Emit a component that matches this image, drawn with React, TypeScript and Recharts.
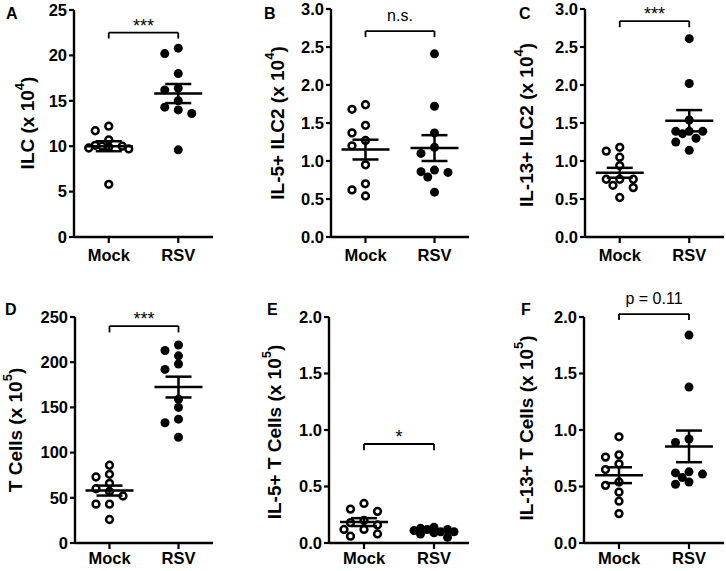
import { ScatterChart, Scatter, XAxis, YAxis, ErrorBar, ReferenceLine } from "recharts";

const FONT = '"Liberation Sans", Arial, sans-serif';

const groups = ["Mock", "RSV"];
const panelLetters = ["A", "B", "C", "D", "E", "F"];
const yTitles = ["ILC (x 10", "IL-5+ ILC2 (x 10", "IL-13+ ILC2 (x 10", "T Cells (x 10", "IL-5+ T Cells (x 10", "IL-13+ T Cells (x 10"];
const yExponents = ["4", "4", "4", "5", "5", "5"];
const sigLabels = ["***", "n.s.", "***", "***", "*", "p = 0.11"];

// A: ILC (x 10^4)
const ilcMock = [12.2, 11.7, 10.7, 10.1, 10.0, 10.0, 9.9, 9.8, 9.7, 5.8];
const ilcRsv = [20.8, 20.2, 18.0, 16.4, 16.2, 15.0, 14.3, 14.0, 13.6, 9.6];
const ilcMean = [10.0, 15.8];
const ilcSem = [0.55, 1.05];
const ilcTicks = [0, 5, 10, 15, 20, 25];

// B: IL-5+ ILC2 (x 10^4)
const il5Ilc2Mock = [1.74, 1.68, 1.47, 1.37, 1.27, 1.2, 0.95, 0.7, 0.62, 0.54];
const il5Ilc2Rsv = [2.41, 1.72, 1.37, 1.18, 1.1, 0.88, 0.86, 0.85, 0.79, 0.59];
const il5Ilc2Mean = [1.15, 1.17];
const il5Ilc2Sem = [0.13, 0.17];

// C: IL-13+ ILC2 (x 10^4)
const il13Ilc2Mock = [1.18, 1.13, 1.05, 0.94, 0.76, 0.76, 0.76, 0.68, 0.65, 0.52];
const il13Ilc2Rsv = [2.61, 2.02, 1.54, 1.39, 1.39, 1.39, 1.36, 1.3, 1.25, 1.14];
const il13Ilc2Mean = [0.845, 1.53];
const il13Ilc2Sem = [0.065, 0.14];
const ilc2Ticks = [0, 0.5, 1, 1.5, 2, 2.5, 3];

// D: T cells (x 10^5)
const tMock = [86, 76, 73, 66, 60, 57, 52, 43, 43, 26];
const tRsv = [219, 213, 207, 198, 192, 159, 150, 137, 133, 117];
const tMean = [58, 172.5];
const tSem = [5.5, 11.5];
const tTicks = [0, 50, 100, 150, 200, 250];

// E: IL-5+ T cells (x 10^5)
const il5TMock = [0.35, 0.3, 0.28, 0.2, 0.18, 0.16, 0.12, 0.12, 0.08, 0.06];
const il5TRsv = [0.14, 0.13, 0.12, 0.12, 0.11, 0.1, 0.1, 0.09, 0.08, 0.05];
const il5TMean = [0.185, 0.105];
const il5TSem = [0.035, 0.01];

// F: IL-13+ T cells (x 10^5)
const il13TMock = [0.94, 0.78, 0.76, 0.7, 0.65, 0.54, 0.51, 0.45, 0.37, 0.26];
const il13TRsv = [1.84, 1.38, 0.92, 0.89, 0.63, 0.62, 0.61, 0.58, 0.54, 0.52];
const il13TMean = [0.6, 0.855];
const il13TSem = [0.07, 0.14];
const tSubTicks = [0, 0.5, 1, 1.5, 2];

// [bracket level, bracket tick end] in data units
const brackets = [[22.5, 21.85], [2.71, 2.63], [2.84, 2.76], [240, 233], [0.876, 0.82], [2.026, 1.973]];

const panels = [
  { mock: ilcMock, rsv: ilcRsv, mean: ilcMean, sem: ilcSem, ticks: ilcTicks, dec: 0, box: [0, 0, 242, 285], plot: [74, 213, 10, 237], tickGap: 6, labelAt: [27, 123], letterAt: [6, 19], sigOffset: 1 },
  { mock: il5Ilc2Mock, rsv: il5Ilc2Rsv, mean: il5Ilc2Mean, sem: il5Ilc2Sem, ticks: ilc2Ticks, dec: 1, box: [242, 0, 242, 285], plot: [331, 469, 9, 237], tickGap: 6, labelAt: [277, 123], letterAt: [264, 19], sigOffset: 10 },
  { mock: il13Ilc2Mock, rsv: il13Ilc2Rsv, mean: il13Ilc2Mean, sem: il13Ilc2Sem, ticks: ilc2Ticks, dec: 1, box: [484, 0, 242, 285], plot: [585, 724, 9, 237], tickGap: 6, labelAt: [526, 125], letterAt: [519, 19], sigOffset: 1 },
  { mock: tMock, rsv: tRsv, mean: tMean, sem: tSem, ticks: tTicks, dec: 0, box: [0, 285, 242, 286], plot: [75, 213, 317, 543], tickGap: 3, labelAt: [15, 430], letterAt: [5, 315], sigOffset: 1 },
  { mock: il5TMock, rsv: il5TRsv, mean: il5TMean, sem: il5TSem, ticks: tSubTicks, dec: 1, box: [242, 285, 242, 286], plot: [329, 469, 317, 543], tickGap: 3, labelAt: [274, 432], letterAt: [267, 315], sigOffset: 1 },
  { mock: il13TMock, rsv: il13TRsv, mean: il13TMean, sem: il13TSem, ticks: tSubTicks, dec: 1, box: [484, 285, 242, 286], plot: [584, 724, 317, 543], tickGap: 3, labelAt: [526, 428], letterAt: [521, 315], sigOffset: 10 },
];

// simple column-style swarm so overlapping dots spread sideways
function swarm(values: number[], center: number, pxX: number, pxY: number) {
  const placed: { x: number; y: number }[] = [];
  const steps = [0, -13.5, 13.5, -6.75, 6.75, -20, 20];
  return values.map((v) => {
    const py = v * pxY;
    let best = 0;
    let bestD = -1;
    for (const s of steps) {
      let d = Infinity;
      for (const p of placed) d = Math.min(d, Math.hypot(p.x - s, p.y - py));
      if (d >= 8) { best = s; break; }
      if (d > bestD) { bestD = d; best = s; }
    }
    placed.push({ x: best, y: py });
    return { x: center + best / pxX, y: v };
  });
}

const openDot = (props: any) => (
  <circle cx={props.cx} cy={props.cy} r={3.4} fill="none" stroke="#000" strokeWidth={2.5} />
);
const filledDot = (props: any) => <circle cx={props.cx} cy={props.cy} r={4.5} fill="#000" />;
const meanLine = (props: any) => (
  <line x1={props.cx - 24} x2={props.cx + 24} y1={props.cy} y2={props.cy} stroke="#000" strokeWidth={2.5} />
);

function Panel({ p, i }: { p: any; i: number }) {
  const [bx, by, bw, bh] = p.box;
  const [pl, pr, pt, pb] = p.plot;
  const yMax = p.ticks[p.ticks.length - 1];
  const pxY = (pb - pt) / yMax;
  const pxX = (pr - pl) / 2;
  const mockPts = swarm(p.mock, 1, pxX, pxY);
  const rsvPts = swarm(p.rsv, 2, pxX, pxY);
  const stats = groups.map((_, k) => ({ x: k + 1, y: p.mean[k], err: p.sem[k] }));
  const xh = by + bh - pb >= 40 ? 40 : by + bh - pb;
  const [lvl, end] = brackets[i];
  const line = { stroke: "#000", strokeWidth: 1.8, ifOverflow: "visible" as const };

  return (
    <div style={{ position: "absolute", left: bx, top: by }}>
      <ScatterChart
        width={bw}
        height={bh}
        margin={{ top: pt - by, right: bx + bw - pr, bottom: by + bh - pb - xh, left: 0 }}
      >
        <XAxis
          type="number"
          dataKey="x"
          domain={[0.5, 2.5]}
          ticks={[1, 2]}
          interval={0}
          tickFormatter={(v) => groups[v - 1]}
          height={xh}
          tickSize={6}
          tickMargin={p.tickGap}
          axisLine={{ stroke: "#000", strokeWidth: 2.4 }}
          tickLine={{ stroke: "#000", strokeWidth: 2.2 }}
          tick={{ fill: "#000", fontSize: 16.5, fontWeight: "bold", fontFamily: FONT }}
        />
        <YAxis
          type="number"
          dataKey="y"
          domain={[0, yMax]}
          ticks={p.ticks}
          interval={0}
          width={pl - bx}
          tickFormatter={(v) => v.toFixed(p.dec)}
          tickSize={5}
          axisLine={{ stroke: "#000", strokeWidth: 2.4 }}
          tickLine={{ stroke: "#000", strokeWidth: 2.2 }}
          tick={{ fill: "#000", fontSize: 16.5, fontWeight: "bold", fontFamily: FONT }}
        />
        <ReferenceLine
          segment={[{ x: 1, y: lvl }, { x: 2, y: lvl }]}
          {...line}
          label={{ value: sigLabels[i], position: "top", offset: p.sigOffset, fill: "#000", fontSize: sigLabels[i].startsWith("*") ? 18 : 16, fontFamily: FONT }}
        />
        <ReferenceLine segment={[{ x: 1, y: lvl }, { x: 1, y: end }]} {...line} />
        <ReferenceLine segment={[{ x: 2, y: lvl }, { x: 2, y: end }]} {...line} />
        <Scatter data={mockPts} shape={openDot} isAnimationActive={false} />
        <Scatter data={rsvPts} shape={filledDot} isAnimationActive={false} />
        <Scatter data={stats} shape={meanLine} isAnimationActive={false}>
          <ErrorBar dataKey="err" direction="y" width={13} stroke="#000" strokeWidth={2.5} isAnimationActive={false} />
        </Scatter>
      </ScatterChart>
    </div>
  );
}

export default function App() {
  return (
    <div style={{ position: "absolute", left: 0, top: 0, width: 726, height: 571, background: "#fff" }}>
      {panels.map((p, i) => (
        <Panel key={i} p={p} i={i} />
      ))}
      <svg width={726} height={571} style={{ position: "absolute", left: 0, top: 0, pointerEvents: "none" }}>
        {panels.map((p, i) => (
          <g key={i} fontFamily={FONT} fontWeight="bold" fill="#000">
            <text x={p.letterAt[0]} y={p.letterAt[1]} fontSize={16}>
              {panelLetters[i]}
            </text>
            <text
              transform={`translate(${p.labelAt[0]},${p.labelAt[1]}) rotate(-90)`}
              textAnchor="middle"
              dominantBaseline="central"
              fontSize={19}
            >
              {yTitles[i]}
              <tspan dy={-8} fontSize={13}>
                {yExponents[i]}
              </tspan>
              <tspan dy={8}>)</tspan>
            </text>
          </g>
        ))}
      </svg>
    </div>
  );
}
